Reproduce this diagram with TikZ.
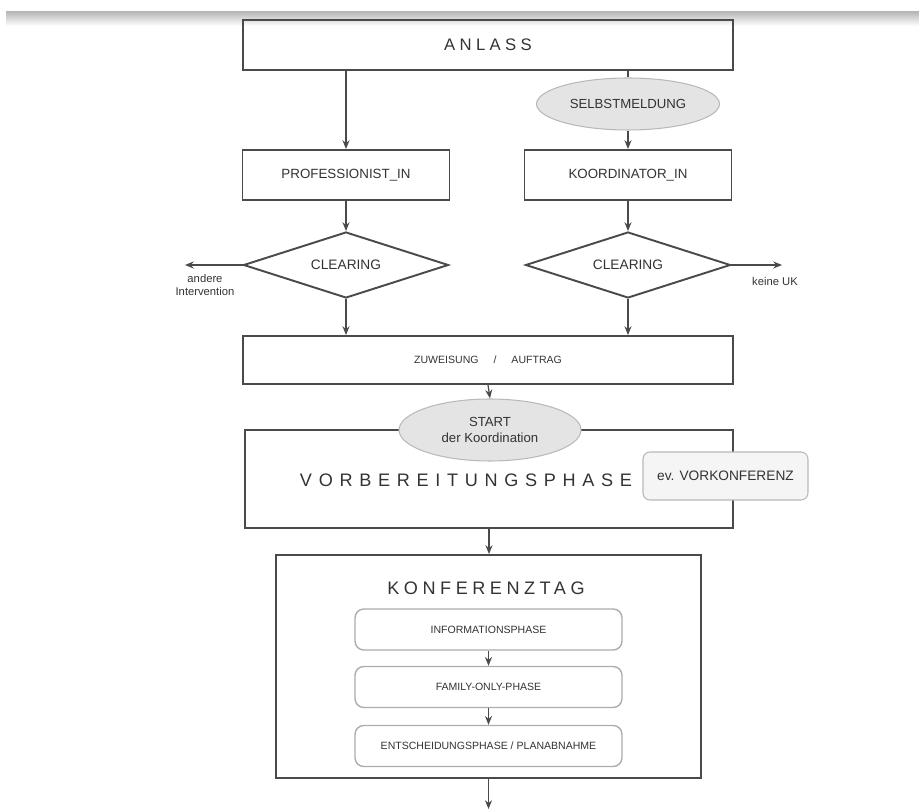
\documentclass[tikz,border=0pt]{standalone}
\usepackage{fontspec}
\setmainfont{Liberation Sans}
\usetikzlibrary{positioning, arrows.meta, shapes.geometric}
\definecolor{LineGray}{HTML}{4A4A4A}
\definecolor{TextGray}{HTML}{333333}
\definecolor{OvalGray}{HTML}{E4E4E4}

\begin{document}
\begin{tikzpicture}[x=0.02cm, y=-0.02cm,
  mbox/.style={draw=LineGray, line width=1.1pt, align=center, inner sep=2pt,
               text=TextGray, font=\fontsize{7.6}{9}\selectfont},
  ibox/.style={draw=gray!65, line width=0.8pt, rounded corners=5pt, fill=white,
               minimum width=5.34cm, minimum height=0.82cm, text=TextGray,
               font=\fontsize{6}{7}\selectfont},
  vbox/.style={draw=gray!55, line width=0.6pt, rounded corners=4pt, fill=gray!8,
               minimum width=3.3cm, minimum height=0.96cm, text=TextGray,
               font=\fontsize{7.8}{9}\selectfont},
  oval/.style={ellipse, draw=gray!55, line width=0.6pt, fill=OvalGray, align=center,
               inner sep=0pt, text=TextGray, font=\fontsize{7.5}{9}\selectfont},
  dia/.style={diamond, aspect=3, draw=LineGray, line width=1.1pt, fill=white,
              inner sep=0pt, minimum width=4.1cm, minimum height=1.32cm,
              text=TextGray, font=\fontsize{7.8}{9}\selectfont},
  spaced/.style 2 args={text=TextGray,
              font=\fontsize{#2}{12}\selectfont\addfontfeatures{LetterSpace=#1}},
  small/.style={align=center, text=TextGray, inner sep=0pt,
                font=\fontsize{6.4}{7.6}\selectfont},
  arr/.style={-{Stealth[length=5pt, width=4pt]}, LineGray, line width=0.7pt},
  lin/.style={LineGray, line width=0.7pt},
]
  \useasboundingbox (0,0) rectangle (919,810);
  \shade[top color=gray!55, bottom color=white] (6,12) rectangle (919,26);

  % oberer Teil
  \node[mbox, minimum width=9.8cm, minimum height=1.0cm, spaced={26}{9.5}] (anlass) at (488,45) {ANLASS};
  \node[oval, minimum width=3.66cm, minimum height=1.04cm] (selbst) at (628,104) {SELBSTMELDUNG};
  \node[mbox, fill=white, minimum width=4.14cm, minimum height=1.0cm] (prof) at (346,175) {PROFESSIONIST\_IN};
  \node[mbox, fill=white, minimum width=4.14cm, minimum height=1.0cm] (koord) at (628,175) {KOORDINATOR\_IN};
  \draw[arr] (anlass.south -| prof.north) -- (prof.north);
  \draw[lin] (anlass.south -| selbst.north) -- (selbst.north);
  \draw[arr] (selbst.south) -- (koord.north);

  % Clearing
  \node[dia] (clearA) at (346,265) {CLEARING};
  \node[dia] (clearB) at (628,265) {CLEARING};
  \draw[arr] (prof.south) -- (clearA.north);
  \draw[arr] (koord.south) -- (clearB.north);
  \coordinate (andere) at (185,265);
  \coordinate (keine) at (782,265);
  \draw[arr] (clearA.west) -- (andere);
  \draw[arr] (clearB.east) -- (keine);
  \node[small] (andereT) at (205,285) {andere\\Intervention};
  \node[small] (keineT) at (775,281) {keine UK};

  \node[mbox, minimum width=9.8cm, minimum height=0.96cm, font=\fontsize{6}{7}\selectfont] (zuw) at (488,360)
    {ZUWEISUNG\hspace{3mm}/\hspace{3mm}AUFTRAG};
  \draw[arr] (clearA.south) -- (clearA.south |- zuw.north);
  \draw[arr] (clearB.south) -- (clearB.south |- zuw.north);

  % Vorbereitungsphase
  \node[mbox, minimum width=9.76cm, minimum height=1.96cm] (vorb) at (489,479) {};
  \node[spaced={37}{10.3}] (vorbT) at (466,480) {VORBEREITUNGSPHASE};
  \node[oval, minimum width=3.64cm, minimum height=1.24cm] (start) at (490,430) {START\\der Koordination};
  \node[vbox] (vork) at (725.5,476) {ev. VORKONFERENZ};
  \draw[arr] (zuw.south) -- (start.north);

  % Konferenztag
  \node[mbox, minimum width=8.5cm, minimum height=4.46cm] (konf) at (488.5,666.5) {};
  \node[spaced={25}{10.3}] (konfT) at (486,588) {KONFERENZTAG};
  \node[ibox] (info) at (488.5,629.5) {INFORMATIONSPHASE};
  \node[ibox] (family) at (488.5,687) {FAMILY-ONLY-PHASE};
  \node[ibox] (entsch) at (488.5,746) {ENTSCHEIDUNGSPHASE / PLANABNAHME};
  \draw[arr] (vorb.south) -- (vorb.south |- konf.north);
  \draw[arr] (info) -- (family);
  \draw[arr] (family) -- (entsch);
  \coordinate (ende) at (488.5,809);
  \draw[arr] (konf.south) -- (ende);
\end{tikzpicture}
\end{document}
